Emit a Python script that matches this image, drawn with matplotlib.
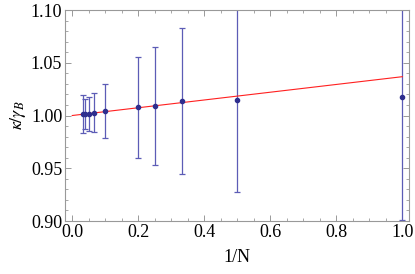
import numpy as np
import matplotlib
matplotlib.use("Agg")
import matplotlib.pyplot as plt
from matplotlib.ticker import MultipleLocator

# Data
N = np.array([30, 25, 20, 15, 10, 5, 4, 3, 2, 1])
kappa = np.array([1.0012, 1.0012, 1.0013, 1.0027, 1.0043, 1.0078, 1.0090, 1.0135, 1.0147, 1.0178])
err = np.array([0.018, 0.014, 0.016, 0.0183, 0.0255, 0.048, 0.0556, 0.069, 0.0875, 0.117])

# Linear fit shown in red
FIT_A, FIT_B = 1.0000, 0.0368

plt.rcParams['font.family'] = 'Liberation Serif'
plt.rcParams['mathtext.fontset'] = 'stix'

fig = plt.figure(figsize=(4.15, 2.74), dpi=100)
ax = fig.add_axes([0.1566, 0.1934, 0.8289, 0.7701])

x = 1.0 / N
ax.errorbar(x, kappa, yerr=err, fmt='none', ecolor='#5c5cb6', elinewidth=0.9,
            capsize=2.2, capthick=0.9, zorder=2)
ax.plot(x, kappa, 'o', color='#2e2e8e', ms=3.0, zorder=4)

xf = np.linspace(0, 1, 2)
ax.plot(xf, FIT_A + FIT_B * xf, color='#ff2020', lw=0.8, zorder=3)

ax.set_xlim(-0.022, 1.02)
ax.set_ylim(0.90, 1.10)
ax.xaxis.set_major_locator(MultipleLocator(0.2))
ax.xaxis.set_minor_locator(MultipleLocator(0.05))
ax.yaxis.set_major_locator(MultipleLocator(0.05))
ax.yaxis.set_minor_locator(MultipleLocator(0.01))
ax.xaxis.set_major_formatter(matplotlib.ticker.FormatStrFormatter('%.1f'))
ax.yaxis.set_major_formatter(matplotlib.ticker.FormatStrFormatter('%.2f'))

for s in ax.spines.values():
    s.set_color('#999999')
    s.set_linewidth(0.8)
ax.tick_params(which='both', direction='in', top=True, right=True, color='#999999',
               labelsize=13, pad=2)
ax.tick_params(which='major', length=4.5, width=0.7)
ax.tick_params(which='minor', length=2.5, width=0.6)

ax.set_xlabel('1/N', fontsize=13, labelpad=6)
ax.set_ylabel(r'$\kappa/\gamma_B$', fontsize=13, labelpad=2)

fig.savefig('out.png', dpi=100)
